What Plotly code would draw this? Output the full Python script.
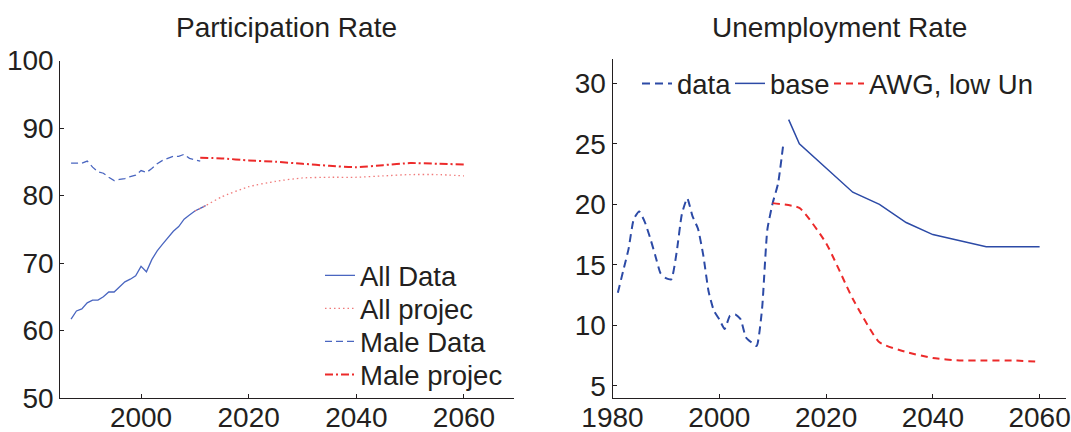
import plotly.graph_objects as go

W, H = 1071, 432

# ---------------- Participation Rate (left) ----------------
all_data_years = list(range(1987, 2013))
all_data_vals = [61.7, 62.9, 63.2, 64.1, 64.5, 64.5, 65.0, 65.7, 65.7, 66.5,
                 67.2, 67.6, 68.1, 69.5, 68.7, 70.5, 71.8, 72.8, 73.7, 74.7,
                 75.4, 76.5, 77.1, 77.7, 78.1, 78.5]

all_proj_years = [2010, 2012, 2015, 2020, 2025, 2030, 2035, 2040, 2045, 2050, 2055, 2060]
all_proj_vals = [77.7, 78.5, 79.8, 81.3, 82.1, 82.6, 82.7, 82.7, 82.9, 83.1, 83.1, 82.9]

male_data_years = list(range(1987, 2012))
male_data_vals = [84.8, 84.8, 84.8, 85.1, 84.2, 83.5, 83.3, 82.7, 82.2, 82.4,
                  82.5, 82.8, 83.0, 83.7, 83.4, 84.0, 84.7, 85.2, 85.5, 85.8,
                  85.8, 86.1, 85.5, 85.3, 85.1]

male_proj_years = [2011, 2015, 2020, 2025, 2030, 2035, 2040, 2045, 2050, 2055, 2060]
male_proj_vals = [85.6, 85.5, 85.2, 85.0, 84.7, 84.4, 84.2, 84.5, 84.8, 84.7, 84.6]

# ---------------- Unemployment Rate (right) ----------------
un_data_years = list(range(1981, 2013))
un_data_vals = [12.7, 14.5, 16.3, 18.8, 19.4, 18.6, 17.3, 15.8, 14.3, 13.9,
                13.8, 16.0, 19.2, 20.5, 19.0, 18.0, 15.8, 12.8, 11.2, 10.5,
                9.7, 10.8, 10.9, 10.5, 9.0, 8.6, 8.3, 11.3, 17.9, 20.1,
                21.7, 25.0]

base_years = [2013, 2015, 2020, 2025, 2030, 2035, 2040, 2045, 2050, 2055, 2060]
base_vals = [27.0, 25.0, 23.0, 21.0, 20.0, 18.5, 17.5, 17.0, 16.5, 16.5, 16.5]

awg_years = [2010, 2015, 2020, 2025, 2030, 2035, 2040, 2045, 2050, 2055, 2060]
awg_vals = [20.1, 19.7, 16.8, 12.2, 8.6, 7.8, 7.3, 7.1, 7.1, 7.1, 7.0]

left_yticks = [50, 60, 70, 80, 90, 100]
left_xticks = [2000, 2020, 2040, 2060]
right_yticks = [5, 10, 15, 20, 25, 30]
right_xticks = [1980, 2000, 2020, 2040, 2060]

FONT = "Liberation Sans, Arial, Helvetica, sans-serif"
TXT = "#231f20"
BLUE_L = "#4a66c0"
BLUE_R = "#2c4aa6"
RED = "#ec2a2a"
PINK = "#f07a7a"
TICK_SIZE = 28
LEG_SIZE = 27.5

fig = go.Figure()

fig.add_trace(go.Scatter(x=all_data_years, y=all_data_vals, mode="lines", name="All Data",
                         line=dict(color=BLUE_L, width=1.3), xaxis="x", yaxis="y", legend="legend"))
fig.add_trace(go.Scatter(x=all_proj_years, y=all_proj_vals, mode="lines", name="All projec",
                         line=dict(color=PINK, width=1.3, dash="1.5px,3px", shape="spline", smoothing=0.6),
                         xaxis="x", yaxis="y", legend="legend3"))
fig.add_trace(go.Scatter(x=male_data_years, y=male_data_vals, mode="lines", name="Male Data",
                         line=dict(color=BLUE_L, width=1.3, dash="7px,4px"), xaxis="x", yaxis="y",
                         legend="legend4"))
fig.add_trace(go.Scatter(x=male_proj_years, y=male_proj_vals, mode="lines", name="Male projec",
                         line=dict(color=RED, width=2, dash="8px,3px,2px,3px", shape="spline", smoothing=0.6),
                         xaxis="x", yaxis="y", legend="legend5"))

fig.add_trace(go.Scatter(x=un_data_years, y=un_data_vals, mode="lines", name="data",
                         line=dict(color=BLUE_R, width=2, dash="8px,5px", shape="spline", smoothing=0.5),
                         xaxis="x2", yaxis="y2", legend="legend2"))
fig.add_trace(go.Scatter(x=base_years, y=base_vals, mode="lines", name="base",
                         line=dict(color=BLUE_R, width=1.5), xaxis="x2", yaxis="y2", legend="legend6"))
fig.add_trace(go.Scatter(x=awg_years, y=awg_vals, mode="lines", name="AWG, low Un",
                         line=dict(color=RED, width=2, dash="7px,5px", shape="spline", smoothing=0.5),
                         xaxis="x2", yaxis="y2", legend="legend7"))

axis_common = dict(showgrid=False, zeroline=False, showline=True, linecolor="#231f20", linewidth=1,
                   ticks="inside", ticklen=4, tickwidth=1, tickcolor="#231f20",
                   tickfont=dict(family=FONT, size=TICK_SIZE, color=TXT), automargin=False, mirror=False)


def leg(x_px, center_y):
    return dict(x=x_px / W, xanchor="left", y=(H - (center_y - 26)) / H, yanchor="top",
                bgcolor="rgba(0,0,0,0)", font=dict(family=FONT, size=LEG_SIZE, color=TXT),
                orientation="v", visible=True)


fig.update_layout(
    width=W, height=H,
    margin=dict(l=0, r=0, t=0, b=0),
    paper_bgcolor="white", plot_bgcolor="white",
    showlegend=True,
    font=dict(family=FONT, size=TICK_SIZE, color=TXT),
    xaxis=dict(domain=[60.3 / W, 513.5 / W], range=[1985, 2069.2], tickvals=left_xticks,
               anchor="y", ticklabelstandoff=-6, **axis_common),
    yaxis=dict(domain=[(H - 398) / H, (H - 60.5) / H], range=[50, 100], tickvals=left_yticks,
               anchor="x", **axis_common),
    xaxis2=dict(domain=[612.5 / W, 1066.3 / W], range=[1980, 2065], tickvals=right_xticks,
                anchor="y2", ticklabelstandoff=-6, **axis_common),
    yaxis2=dict(domain=[(H - 398) / H, (H - 59.1) / H], range=[4, 32], tickvals=right_yticks,
                anchor="x2", **axis_common),
    legend=leg(320, 277),
    legend3=leg(320, 310),
    legend4=leg(320, 343),
    legend5=leg(320, 376),
    legend2=leg(637, 85),
    legend6=leg(730, 85),
    legend7=leg(829, 85),
    annotations=[
        dict(text="Participation Rate", x=(60.3 + 513.5) / 2 / W, y=(H - 27) / H, xref="paper",
             yref="paper", xanchor="center", yanchor="middle", showarrow=False,
             font=dict(family=FONT, size=TICK_SIZE, color=TXT)),
        dict(text="Unemployment Rate", x=(612.5 + 1066.3) / 2 / W, y=(H - 27) / H, xref="paper",
             yref="paper", xanchor="center", yanchor="middle", showarrow=False,
             font=dict(family=FONT, size=TICK_SIZE, color=TXT)),
    ],
)

fig.write_html("out.html")
